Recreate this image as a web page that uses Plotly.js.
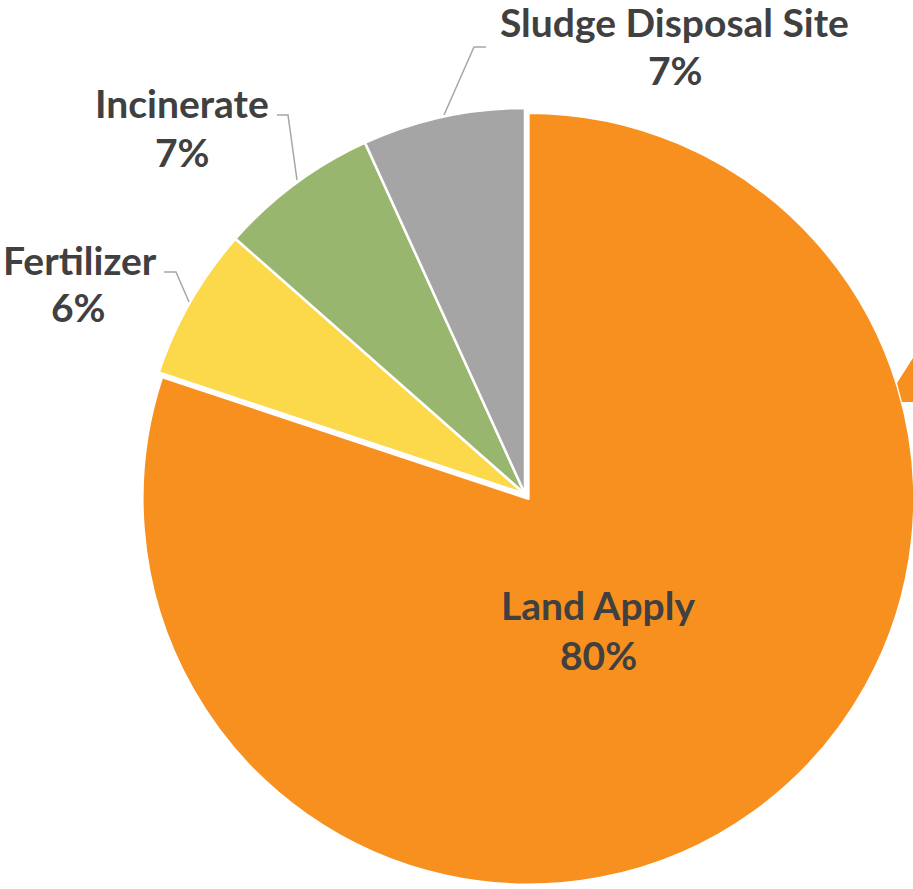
<!DOCTYPE html>
<html>
<head>
<meta charset="utf-8">
<script src="https://cdn.plot.ly/plotly-3.0.1.min.js"></script>
<style>
  html, body { margin: 0; padding: 0; overflow: hidden; background: #fff; }
  #chart { width: 930px; height: 889px; }
</style>
</head>
<body>
<div id="chart"></div>
<script>
// ---- data ----
const categories = ["Land Apply", "Fertilizer", "Incinerate", "Sludge Disposal Site"];
const shares = [80.1, 6.4, 6.7, 6.8];
const sliceColors = ["#F7901E", "#FCD94B", "#98B66D", "#A5A5A5"];

// ---- layout helpers (pixel -> paper) ----
const W = 930, H = 889;
const px = x => x / W;
const py = y => 1 - y / H;

const total = shares.reduce((a, b) => a + b, 0);
const pctText = shares.map(v => Math.round(v / total * 100) + "%");

// label line centres (pixels): [x, nameY, percentX, percentY]
const labelPos = [[598, 605, 598, 655], [79.5, 259.5, 78.5, 307.5], [182, 103, 182, 151.5], [674, 22, 675, 70.5]];

const labelFont = { family: "Lato, 'Open Sans', sans-serif", size: 39, color: "#404040", weight: 700 };
const annotations = [];
categories.forEach((c, i) => {
  const p = labelPos[i];
  annotations.push({
    text: c, x: px(p[0]), y: py(p[1]), xref: "paper", yref: "paper",
    xanchor: "center", yanchor: "middle", showarrow: false, font: labelFont
  });
  annotations.push({
    text: pctText[i], x: px(p[2]), y: py(p[3]), xref: "paper", yref: "paper",
    xanchor: "center", yanchor: "middle", showarrow: false, font: labelFont
  });
});

function path(pts) {
  return "M " + pts.map(p => px(p[0]) + "," + py(p[1])).join(" L ");
}
const leader = { color: "#A6A6A6", width: 1.5 };
const shapes = [
  { type: "path", xref: "paper", yref: "paper", path: path([[164, 272], [176, 272], [189, 302]]), line: leader },
  { type: "path", xref: "paper", yref: "paper", path: path([[277, 115], [288, 115], [297, 180]]), line: leader },
  { type: "path", xref: "paper", yref: "paper", path: path([[486, 47], [474, 47], [444, 115]]), line: leader },
  // cut-off callout pointer at the right edge
  { type: "path", xref: "paper", yref: "paper", path: path([[897, 383], [915, 355], [915, 402], [902, 402]]) + " Z",
    fillcolor: "#F7901E", line: { width: 0 }, layer: "above" }
];

const trace = {
  type: "pie",
  labels: categories,
  values: shares,
  sort: false,
  direction: "clockwise",
  rotation: 0,
  pull: [0.015, 0, 0, 0],
  marker: { colors: sliceColors, line: { color: "#FFFFFF", width: 2.5 } },
  textinfo: "none",
  hoverinfo: "label+percent",
  domain: { x: [px(133.2), px(916.8)], y: [py(885.8), py(102.2)] },
  showlegend: false
};

Plotly.newPlot("chart", [trace], {
  width: W, height: H,
  margin: { l: 0, r: 0, t: 0, b: 0 },
  paper_bgcolor: "#FFFFFF",
  showlegend: false,
  annotations: annotations,
  shapes: shapes
}, { displayModeBar: false, staticPlot: true });
</script>
</body>
</html>
